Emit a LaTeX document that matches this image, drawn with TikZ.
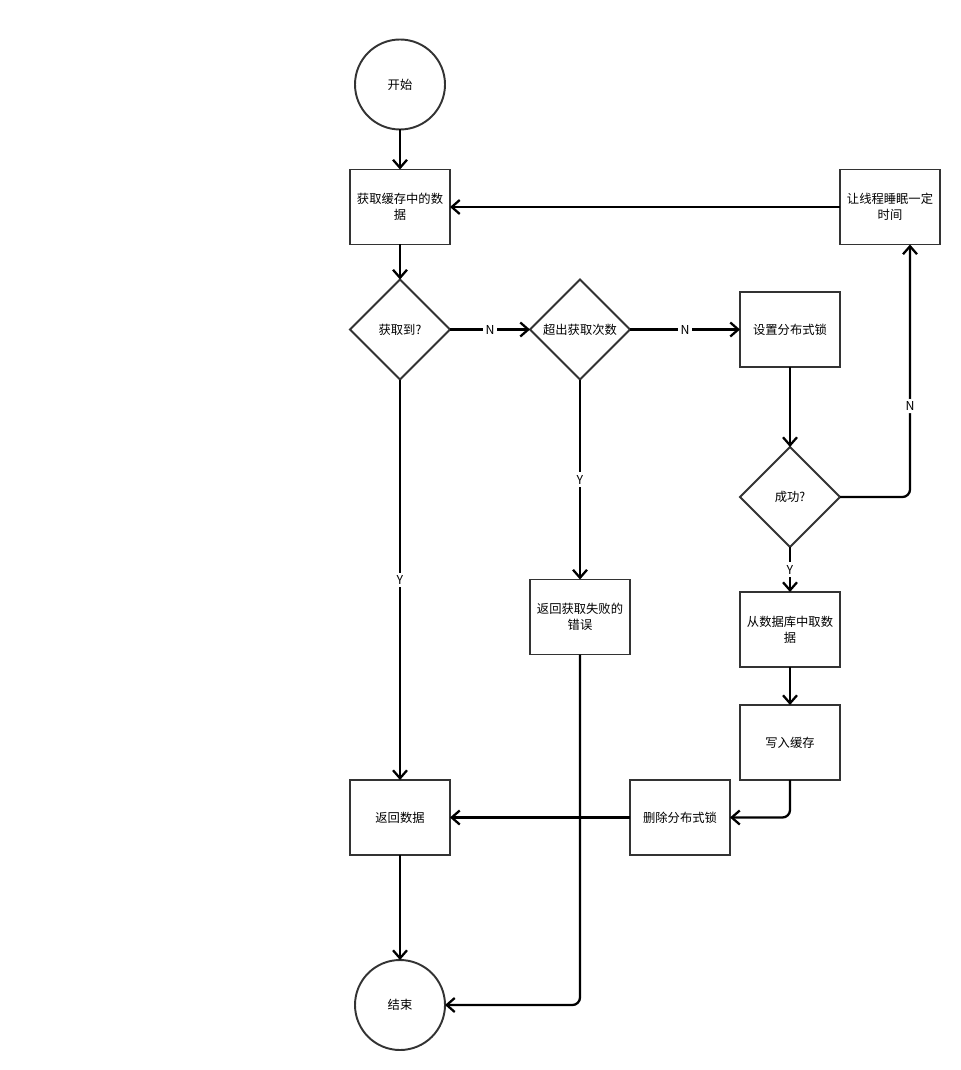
\documentclass[tikz,border=0pt]{standalone}
\usepackage{fontspec}
\setmainfont{Noto Sans CJK SC}
\usetikzlibrary{positioning,shapes.geometric,arrows.meta}

\begin{document}
\begin{tikzpicture}[>={Straight Barb[length=1.6mm,width=2.8mm]},
      proc/.style={draw=black!80,line width=1.1pt,minimum width=2cm,minimum height=1.5cm,
                   align=center,font=\fontsize{7}{9}\selectfont,inner sep=0pt,outer sep=0pt},
      decis/.style={diamond,draw=black!80,line width=1.1pt,minimum width=2cm,minimum height=2cm,
                    aspect=1,inner sep=0pt,outer sep=0pt,font=\fontsize{7}{9}\selectfont},
      term/.style={circle,draw=black!80,line width=1.1pt,minimum size=1.8cm,inner sep=0pt,
                   outer sep=0pt,font=\fontsize{7}{9}\selectfont},
      ar/.style={->,line width=1.3pt,draw=black},
      lbl/.style={fill=white,inner sep=1.5pt,font=\fontsize{7}{9}\selectfont}]
    \useasboundingbox (0,0) rectangle (19.2,-21.4);
    % main column
    \node[proc] (get) at (8.0,-4.14) {获取缓存中的数\\据};
    \node[term,above=0.8cm of get] (start) {开始};
    \node[decis,below=0.7cm of get] (got) {获取到?};
    \node[decis,right=1.6cm of got] (over) {超出获取次数};
    \node[proc,right=2.2cm of over] (lock) {设置分布式锁};
    \node[decis,below=1.6cm of lock] (ok) {成功?};
    \node[proc,right=7.8cm of get] (sleep) {让线程睡眠一定\\时间};
    \node[proc,below=4cm of over] (fail) {返回获取失败的\\错误};
    \node[proc,below=0.9cm of ok] (db) {从数据库中取数\\据};
    \node[proc,below=0.76cm of db] (write) {写入缓存};
    \node[proc,below left=0cm and 0.2cm of write] (del) {删除分布式锁};
    \node[proc,left=3.6cm of del] (back) {返回数据};
    \node[term,below=2.1cm of back] (end) {结束};
    % connectors
    \draw[ar] (start) -- (get);
    \draw[ar] (get) -- (got);
    \draw[ar] (got) -- node[lbl] {N} (over);
    \draw[ar] (over) -- node[lbl] {N} (lock);
    \draw[ar] (over) -- node[lbl] {Y} (fail);
    \draw[ar] (got) -- node[lbl] {Y} (back);
    \draw[ar] (lock) -- (ok);
    \draw[ar,rounded corners=0.15cm] (ok.east) -| node[lbl,pos=0.68] {N} ([xshift=0.4cm]sleep.south);
    \draw[ar] (sleep) -- (get);
    \draw[ar] (ok) -- node[lbl] {Y} (db);
    \draw[ar] (db) -- (write);
    \draw[ar,rounded corners=0.15cm] (write.south) |- (del.east);
    \draw[ar] (del) -- (back);
    \draw[ar] (back) -- (end);
    \draw[ar,rounded corners=0.15cm] (fail.south) |- (end.east);
\end{tikzpicture}
\end{document}
